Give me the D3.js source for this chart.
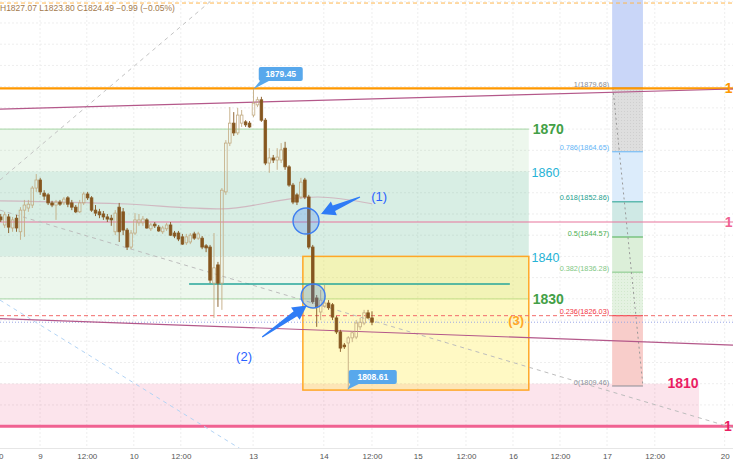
<!DOCTYPE html>
<html><head><meta charset="utf-8">
<script src="https://cdn.jsdelivr.net/npm/d3@7/dist/d3.min.js"></script>
<style>body{margin:0;background:#fff;}svg{display:block;font-family:"Liberation Sans",Arial,sans-serif;}</style>
</head><body>
<svg id="c" width="733" height="465"></svg>
<script>
// ---- data ----
const openP=[1849.3,1847.4,1849.3,1846.7,1849.0,1845.8,1850.9,1851.4,1852.1,1856.1,1858.0,1854.9,1854.5,1852.6,1852.1,1852.8,1852.6,1853.8,1852.6,1851.6,1850.5,1852.6,1854.7,1853.8,1850.9,1850.5,1850.0,1849.3,1849.0,1845.8,1851.6,1850.5,1846.2,1842.2,1845.5,1847.9,1847.9,1848.6,1846.5,1847.6,1846.9,1845.8,1846.5,1847.4,1845.5,1845.5,1844.6,1843.2,1843.4,1845.3,1844.3,1844.3,1842.5,1842.2,1833.7,1838.0,1833.7,1855.2,1866.7,1871.4,1869.1,1871.4,1871.7,1871.4,1873.3,1875.7,1876.9,1872.1,1862.0,1863.2,1862.7,1862.7,1865.5,1861.1,1856.8,1854.5,1854.0,1858.0,1854.0,1842.2,1830.2,1826.9,1828.3,1829.0,1828.6,1825.5,1822.2,1819.1,1819.6,1820.8,1821.0,1823.4,1824.3,1826.7,1825.5];
const highP=[1850.0,1850.5,1850.0,1849.3,1849.8,1851.6,1853.3,1853.3,1856.6,1859.4,1858.5,1855.6,1854.9,1853.1,1853.3,1853.3,1854.0,1854.2,1853.3,1852.1,1853.3,1855.2,1855.2,1854.2,1852.1,1851.2,1850.7,1850.0,1849.8,1850.9,1852.6,1851.4,1846.7,1846.2,1850.2,1850.0,1849.5,1849.0,1847.9,1848.1,1847.4,1847.2,1847.9,1848.1,1846.0,1846.0,1845.3,1845.3,1845.5,1845.8,1845.8,1844.8,1842.9,1842.7,1845.5,1838.7,1856.1,1867.4,1875.2,1874.0,1875.0,1874.5,1872.1,1871.9,1879.45,1877.6,1877.6,1872.6,1865.5,1863.9,1865.5,1866.7,1867.0,1861.5,1857.3,1854.9,1858.5,1858.5,1854.5,1842.7,1830.9,1832.1,1833.3,1829.7,1829.0,1826.0,1822.7,1819.6,1821.2,1822.4,1825.0,1825.5,1827.4,1827.4,1827.07];
const lowP=[1848.1,1846.7,1845.5,1845.8,1845.8,1843.9,1844.6,1850.5,1851.4,1855.2,1854.5,1853.3,1852.1,1851.6,1848.6,1851.9,1852.1,1851.6,1850.9,1850.2,1850.2,1852.1,1853.3,1850.5,1849.5,1849.0,1848.6,1848.1,1847.2,1845.0,1843.4,1845.0,1841.5,1841.7,1845.0,1847.2,1847.2,1846.5,1846.0,1846.7,1845.8,1845.3,1846.0,1844.8,1844.3,1843.6,1842.7,1842.7,1842.9,1843.9,1843.9,1841.7,1841.0,1833.7,1825.5,1828.1,1827.4,1854.5,1866.0,1868.4,1868.6,1870.5,1870.5,1870.3,1872.8,1875.2,1871.7,1861.5,1859.7,1862.0,1860.4,1862.0,1860.4,1856.4,1852.3,1852.1,1853.5,1853.5,1841.7,1828.8,1823.4,1825.0,1827.9,1827.4,1825.0,1821.7,1817.5,1818.2,1808.61,1819.8,1820.5,1822.7,1823.8,1825.3,1823.80];
const closeP=[1848.6,1849.8,1846.9,1848.6,1846.7,1850.9,1852.1,1852.3,1856.1,1858.0,1855.2,1854.2,1852.6,1852.1,1852.8,1852.3,1853.5,1852.3,1851.6,1850.5,1852.6,1854.7,1853.8,1850.9,1850.2,1849.8,1849.3,1848.8,1848.6,1850.2,1845.8,1846.2,1842.2,1845.5,1848.6,1848.6,1848.8,1846.7,1847.4,1847.2,1846.0,1846.7,1847.4,1845.0,1844.8,1844.1,1842.9,1844.6,1845.0,1844.3,1845.3,1842.2,1842.0,1834.4,1837.3,1833.7,1855.6,1866.7,1871.4,1869.1,1873.3,1873.3,1871.0,1870.5,1876.1,1876.9,1872.1,1862.0,1863.2,1862.7,1863.4,1865.1,1861.1,1856.8,1852.8,1852.8,1857.5,1854.0,1842.2,1829.3,1828.1,1829.7,1829.0,1827.9,1825.7,1822.2,1818.4,1818.7,1820.8,1822.0,1824.3,1824.5,1826.7,1825.5,1824.49];

const tickIdx=[-1.95,9.95,21.8,33.7,45.6,63.9,81.8,94,105.6,117.8,129.7,141.6,153.5,165.6,183.3];
const tickLabels=["12:00","9","12:00","10","12:00","13","14","12:00","15","12:00","16","12:00","17","12:00","20"];

const fibRatios=[1,0.786,0.618,0.5,0.382,0.236,0];
const fibHigh=1879.68, fibLow=1809.46;
const fibStartIdx=154.8, fibEndIdx=162.6;

const zoneGreen=[1830,1870], zoneTeal=[1840,1860], zonePink=[1800,1810];
const yellowBox={i0:76.5,i1:133.7,p0:1840,p1:1808.5};
const zoneEndIdx=133.7, pinkEndIdx=176.8;

const levelOrange=1879.6, levelPink=1848.1, levelRed=1800, levelTeal=1833.5, levelTopDash=1899.7;
const lastPrice=1824.49, fib236=1826.03;
const trendA=[[-0.18,1858.0],[53.5,1900.42]];
const trendB=[[-0.18,1850.9],[185.4,1799.6]];
const trendC=[[-0.18,1829.7],[61.1,1794.4]];
const trendD=[[-0.18,1874.7],[185.4,1879.45]];
const trendE=[[-0.18,1825.35],[185.4,1819.1]];
const maLine=[[-0.18,1853.1],[30.2,1852.4],[56,1851.2],[75.8,1853.8],[80.3,1854.0],[94,1852.4]];
const header="H1827.07 L1823.80 C1824.49 −0.99 (−0.05%)";

// ---- scales ----
const W=733,H=465,plotB=448;
const x=d3.scaleLinear().domain([-0.18,185.4]).range([0,733]);
const y=d3.scaleLinear().domain([fibLow,fibHigh]).range([386,88]);
const svg=d3.select('#c');
svg.append('defs').append('clipPath').attr('id','pc').append('rect').attr('x',0).attr('y',0).attr('width',W).attr('height',plotB);
const dots=svg.select('defs').append('pattern').attr('id','dots').attr('width',3).attr('height',3).attr('patternUnits','userSpaceOnUse');
dots.append('rect').attr('width',3).attr('height',3).attr('fill','#e4f2e1');
dots.append('rect').attr('width',1).attr('height',1).attr('fill','#d2e8cd');
const dots2=svg.select('defs').append('pattern').attr('id','dots2').attr('width',3).attr('height',3).attr('patternUnits','userSpaceOnUse');
dots2.append('rect').attr('width',3).attr('height',3).attr('fill','#dedede');
dots2.append('rect').attr('width',1).attr('height',1).attr('fill','#cfcfcf');

const g=svg.append('g').attr('clip-path','url(#pc)');

// grid
g.selectAll('.hg').data(d3.range(1800,1905,5)).enter().append('line')
 .attr('x1',0).attr('x2',W).attr('y1',d=>y(d)).attr('y2',d=>y(d))
 .attr('stroke','#eeeeee').attr('stroke-dasharray','2,2');
g.selectAll('.vg').data(tickIdx).enter().append('line')
 .attr('x1',d=>x(d)).attr('x2',d=>x(d)).attr('y1',0).attr('y2',plotB)
 .attr('stroke','#eeeeee').attr('stroke-dasharray','2,2');

// zones
function zone(i0,i1,p0,p1,fill){return g.append('rect').attr('x',x(i0)).attr('width',x(i1)-x(i0)).attr('y',y(Math.max(p0,p1))).attr('height',Math.abs(y(p0)-y(p1))).attr('fill',fill);}
zone(-0.18,zoneEndIdx,zoneGreen[0],zoneGreen[1],'rgba(76,175,80,0.1)');
zone(-0.18,zoneEndIdx,zoneTeal[0],zoneTeal[1],'rgba(38,166,154,0.1)');
[zoneGreen[0],zoneGreen[1]].forEach(p=>g.append('line').attr('x1',x(-0.18)).attr('x2',x(zoneEndIdx)).attr('y1',y(p)).attr('y2',y(p)).attr('stroke','#b5ddb4').attr('stroke-width',1.2));
zone(-0.18,pinkEndIdx,zonePink[0],zonePink[1],'rgba(233,30,99,0.12)');
zone(yellowBox.i0,yellowBox.i1,yellowBox.p0,yellowBox.p1,'rgba(255,235,59,0.3)')
 .attr('stroke','#ffa726').attr('stroke-width',1.5);

// fib
const fibPrice=r=>fibLow+(fibHigh-fibLow)*r;
const fibFill=['#dedede','#dcecfb','#cfe9e5','#dcefd9','url(#dots)','#f8cdca'];
const fibCol=['#8a8d96','#64b5f6','#22a08e','#4caf50','#81c784','#f23645','#8a8d96'];
g.append('rect').attr('x',x(fibStartIdx)).attr('width',x(fibEndIdx)-x(fibStartIdx)).attr('y',0).attr('height',y(fibHigh)).attr('fill','#c9d6f8');
for(let k=0;k<fibRatios.length-1;k++){
 const a=y(fibPrice(fibRatios[k])),b=y(fibPrice(fibRatios[k+1]));
 g.append('rect').attr('x',x(fibStartIdx)).attr('width',x(fibEndIdx)-x(fibStartIdx)).attr('y',a).attr('height',b-a).attr('fill',k===0?'url(#dots2)':fibFill[k]);
}
fibRatios.forEach((r,k)=>{
 const yy=y(fibPrice(r));
 g.append('line').attr('x1',x(fibStartIdx)).attr('x2',x(fibEndIdx)).attr('y1',yy).attr('y2',yy).attr('stroke',fibCol[k]).attr('stroke-width',1);
 g.append('text').attr('x',x(fibStartIdx)-3).attr('y',yy-1.5).attr('text-anchor','end')
  .attr('font-size',7.3).attr('fill',fibCol[k]).text(`${r}(${fibPrice(r).toFixed(2)})`);
});
const line=d3.line().x(d=>x(d[0])).y(d=>y(d[1]));
g.append('path').attr('d',line([[fibStartIdx+0.2,fibHigh],[fibEndIdx,fibLow]])).attr('stroke','#999').attr('stroke-dasharray','2,3').attr('fill','none');

// horizontal lines
function hline(p,col,w,dash,i0,i1){const l=g.append('line').attr('x1',x(i0===undefined?-0.18:i0)).attr('x2',x(i1===undefined?185.4:i1)).attr('y1',y(p)).attr('y2',y(p)).attr('stroke',col).attr('stroke-width',w);if(dash)l.attr('stroke-dasharray',dash);return l;}
hline(levelTopDash,'#ffb74d',1,'4,3');
hline(levelPink,'#e8749c',1.2);
hline(levelRed,'#f06292',3);
hline(fib236,'#f26b6b',1,'4,3');
hline(lastPrice,'#9aa6e6',1,'1,2');
hline(levelOrange,'#ff9800',2.2);

// trend & dashed lines
g.append('path').attr('d',line(trendA)).attr('stroke','#c4c4c4').attr('stroke-dasharray','4,4').attr('fill','none');
g.append('path').attr('d',line(trendB)).attr('stroke','#bdbdbd').attr('stroke-dasharray','4,4').attr('fill','none');
g.append('path').attr('d',line(trendC)).attr('stroke','#b3d4f5').attr('stroke-dasharray','4,4').attr('fill','none');
g.append('path').attr('d',line(trendD)).attr('stroke','#b4588a').attr('stroke-width',1.2).attr('fill','none');
g.append('path').attr('d',line(trendE)).attr('stroke','#b4588a').attr('stroke-width',1.2).attr('fill','none');
g.append('path').attr('d',d3.line().x(d=>x(d[0])).y(d=>y(d[1])).curve(d3.curveMonotoneX)(maLine)).attr('stroke','rgba(200,120,150,0.45)').attr('stroke-width',1.2).attr('fill','none');
hline(levelTeal,'#26a69a',1.6,null,47.7,128.9);

// candles
const upC='#c3ab82', dnC='#85561f', bw=2.6;
const cg=g.append('g');
openP.forEach((o,i)=>{
 const c=closeP[i],up=c>=o,col=up?upC:dnC,cx=x(i);
 const top=y(Math.max(o,c)),bot=y(Math.min(o,c));
 cg.append('line').attr('x1',cx).attr('x2',cx).attr('y1',y(highP[i])).attr('y2',top).attr('stroke',col).attr('stroke-width',0.9);
 cg.append('line').attr('x1',cx).attr('x2',cx).attr('y1',bot).attr('y2',y(lowP[i])).attr('stroke',col).attr('stroke-width',0.9);
 cg.append('rect').attr('x',cx-bw/2).attr('y',top).attr('width',bw).attr('height',Math.max(bot-top,0.8))
  .attr('fill',up?'rgba(255,255,255,0)':dnC).attr('stroke',col).attr('stroke-width',0.8);
});

// circles
[[77.3,1848.35,13],[79.1,1830.67,12]].forEach(d=>{
 g.append('circle').attr('cx',x(d[0])).attr('cy',y(d[1])).attr('r',d[2]).attr('fill','rgba(66,133,244,0.28)').attr('stroke','#3d7ef0').attr('stroke-width',1.4);
});
// arrows
function arrow(t,h){
 const x1=x(t[0]),y1=y(t[1]),x2=x(h[0]),y2=y(h[1]);
 const L=Math.hypot(x2-x1,y2-y1),ux=(x2-x1)/L,uy=(y2-y1)/L,nx=-uy,ny=ux;
 const hl=14,hw=7.5,w0=0.6,w1=3,bx=x2-ux*hl,by=y2-uy*hl;
 const pts=[[x1+nx*w0,y1+ny*w0],[bx+nx*w1,by+ny*w1],[bx+nx*hw,by+ny*hw],[x2,y2],[bx-nx*hw,by-ny*hw],[bx-nx*w1,by-ny*w1],[x1-nx*w0,y1-ny*w0]];
 g.append('path').attr('d','M'+pts.map(p=>p.join(',')).join('L')+'Z').attr('fill','#2f7cf6');
}
arrow([90.96,1854.0],[81.1,1850.0]);
arrow([66.2,1821.0],[77.5,1828.4]);

// callouts
function callout(cxI,cP,txt,tipI,tipP,w){
 const cx=x(cxI),cy=y(cP),tx=x(tipI),ty=y(tipP);
 g.append('path').attr('d',`M${cx-w/2+2},${cy+6}L${cx-w/2+12},${cy+6}L${tx},${ty}Z`).attr('fill','#58a8ec');
 g.append('rect').attr('x',cx-w/2).attr('y',cy-7).attr('width',w).attr('height',14).attr('rx',2).attr('fill','#58a8ec');
 g.append('text').attr('x',cx).attr('y',cy+3).attr('text-anchor','middle').attr('font-size',8.5).attr('font-weight','bold').attr('fill','#fff').text(txt);
}
callout(70.9,1883.0,'1879.45',64,1879.45,44);
callout(94.2,1811.6,'1808.61',87.8,1808.61,48);

// texts
function label(i,p,txt,col,size,weight){return g.append('text').attr('x',x(i)).attr('y',y(p)).attr('font-size',size).attr('font-weight',weight||'normal').attr('fill',col).text(txt);}
label(134.7,1868.9,'1870','#43a047',14,'bold');
label(134.4,1858.7,'1860','#26b3d6',12.5);
label(134.4,1838.7,'1840','#26b3d6',12.5);
label(134.7,1828.8,'1830','#43a047',14,'bold');
label(168.8,1809.0,'1810','#e91e63',14,'bold');
label(183.3,1878.4,'1','#ff9800',14,'bold');
label(183.3,1847.0,'1','#f06292',14,'bold');
label(183.1,1798.8,'1','#e91e63',14,'bold');
label(93.8,1853.1,'(1)','#2962ff',13);
label(59.6,1815.4,'(2)','#2962ff',13);
label(128.5,1823.9,'(3)','#ffa726',13,'bold');

// header
svg.append('text').attr('x',0).attr('y',11).attr('font-size',8.5).attr('fill','#a37a4c').text(header);

// axis
svg.append('line').attr('x1',0).attr('x2',W).attr('y1',plotB+0.5).attr('y2',plotB+0.5).attr('stroke','#e6e6e6');
const ax=svg.append('g').attr('transform',`translate(0,${plotB})`).call(d3.axisBottom(x).tickValues(tickIdx).tickFormat((d,i)=>tickLabels[i]).tickSize(0).tickPadding(5));
ax.select('.domain').remove();
ax.selectAll('text').attr('font-size',8).attr('fill','#555').attr('font-family','"Liberation Sans",Arial,sans-serif');
</script>
</body></html>
